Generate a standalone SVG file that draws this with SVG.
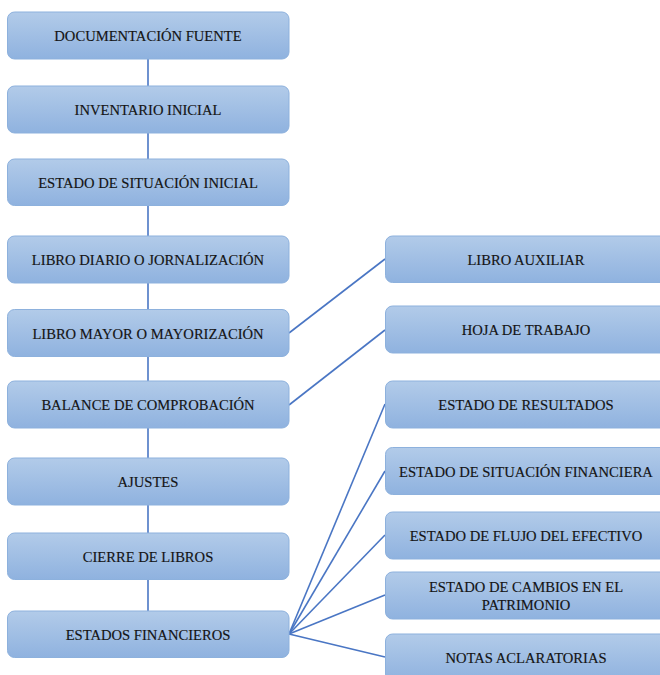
<svg xmlns="http://www.w3.org/2000/svg" width="660" height="675" viewBox="0 0 660 675">
<defs>
<linearGradient id="g" x1="0" y1="0" x2="0" y2="1">
<stop offset="0" stop-color="#b2cbe9"/>
<stop offset="1" stop-color="#8fb2df"/>
</linearGradient>
<style>
.box{fill:url(#g);stroke:#8db1dd;stroke-width:1}
.t{font-family:"Liberation Serif","DejaVu Serif",serif;font-size:14.6px;fill:#141414;text-anchor:middle;dominant-baseline:central;stroke:#141414;stroke-width:0.15}
.c{stroke:#4a76c4;stroke-width:1.6;fill:none}
</style>
</defs>
<rect width="660" height="675" fill="#ffffff"/>
<g id="connectors">
<line class="c" x1="148" y1="59" x2="148" y2="611"/>
<line class="c" x1="289" y1="333" x2="385" y2="259"/>
<line class="c" x1="289" y1="405" x2="385" y2="330"/>
<line class="c" x1="289" y1="634" x2="385" y2="404"/>
<line class="c" x1="289" y1="634" x2="385" y2="471"/>
<line class="c" x1="289" y1="634" x2="385" y2="535"/>
<line class="c" x1="289" y1="634" x2="385" y2="595"/>
<line class="c" x1="289" y1="634" x2="385" y2="657"/>
</g>
<g id="n1"><rect class="box" x="7.5" y="12" width="281.5" height="47" rx="7"/><text class="t" x="148" y="36">DOCUMENTACIÓN FUENTE</text></g>
<g id="n2"><rect class="box" x="7.5" y="86" width="281.5" height="47" rx="7"/><text class="t" x="148" y="110">INVENTARIO INICIAL</text></g>
<g id="n3"><rect class="box" x="7.5" y="159" width="281.5" height="46.5" rx="7"/><text class="t" x="148" y="183">ESTADO DE SITUACIÓN INICIAL</text></g>
<g id="n4"><rect class="box" x="7.5" y="236" width="281.5" height="47" rx="7"/><text class="t" x="148" y="260">LIBRO DIARIO O JORNALIZACIÓN</text></g>
<g id="n5"><rect class="box" x="7.5" y="309.5" width="281.5" height="47" rx="7"/><text class="t" x="148" y="334">LIBRO MAYOR O MAYORIZACIÓN</text></g>
<g id="n6"><rect class="box" x="7.5" y="381" width="281.5" height="47" rx="7"/><text class="t" x="148" y="405">BALANCE DE COMPROBACIÓN</text></g>
<g id="n7"><rect class="box" x="7.5" y="458" width="281.5" height="47" rx="7"/><text class="t" x="148" y="482">AJUSTES</text></g>
<g id="n8"><rect class="box" x="7.5" y="533" width="281.5" height="46.5" rx="7"/><text class="t" x="148" y="557">CIERRE DE LIBROS</text></g>
<g id="n9"><rect class="box" x="7.5" y="611" width="281.5" height="46.5" rx="7"/><text class="t" x="148" y="635">ESTADOS FINANCIEROS</text></g>
<g id="r1"><rect class="box" x="385.5" y="236" width="281.5" height="46.5" rx="7"/><text class="t" x="526" y="260">LIBRO AUXILIAR</text></g>
<g id="r2"><rect class="box" x="385.5" y="306" width="281.5" height="47" rx="7"/><text class="t" x="526" y="330">HOJA DE TRABAJO</text></g>
<g id="r3"><rect class="box" x="385.5" y="381" width="281.5" height="47" rx="7"/><text class="t" x="526" y="405">ESTADO DE RESULTADOS</text></g>
<g id="r4"><rect class="box" x="385.5" y="447.5" width="281.5" height="47" rx="7"/><text class="t" x="526" y="472">ESTADO DE SITUACIÓN FINANCIERA</text></g>
<g id="r5"><rect class="box" x="385.5" y="512" width="281.5" height="47" rx="7"/><text class="t" x="526" y="536">ESTADO DE FLUJO DEL EFECTIVO</text></g>
<g id="r6"><rect class="box" x="385.5" y="572" width="281.5" height="47" rx="7"/><text class="t" x="526" y="587">ESTADO DE CAMBIOS EN EL</text><text class="t" x="526" y="605">PATRIMONIO</text></g>
<g id="r7"><rect class="box" x="385.5" y="634" width="281.5" height="47" rx="7"/><text class="t" x="526" y="658">NOTAS ACLARATORIAS</text></g>
</svg>
